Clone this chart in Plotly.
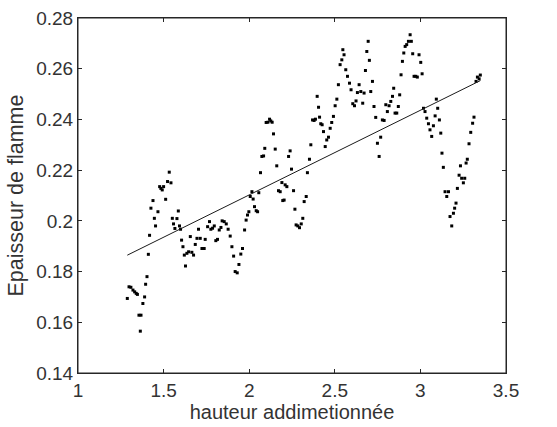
import numpy as np
import plotly.graph_objects as go

hauteur = [1.288, 1.298, 1.309, 1.321, 1.331, 1.340, 1.347, 1.356, 1.368, 1.364, 1.379, 1.389,
           1.395, 1.403, 1.411, 1.418, 1.426, 1.438, 1.446, 1.453, 1.467, 1.477, 1.484, 1.492,
           1.500, 1.512, 1.523, 1.533, 1.543, 1.551, 1.558, 1.566, 1.578, 1.586, 1.593, 1.599,
           1.605, 1.613, 1.621, 1.628, 1.636, 1.646, 1.656, 1.665, 1.675, 1.685, 1.695, 1.704,
           1.714, 1.724, 1.737, 1.743, 1.757, 1.768, 1.776, 1.786, 1.796, 1.805, 1.815, 1.825,
           1.835, 1.842, 1.854, 1.866, 1.877, 1.889, 1.899, 1.909, 1.918, 1.930, 1.940, 1.951,
           1.961, 1.973, 1.982, 1.990, 1.998, 2.006, 2.016, 2.023, 2.031, 2.041, 2.049, 2.056,
           2.066, 2.074, 2.084, 2.091, 2.099, 2.109, 2.119, 2.126, 2.134, 2.142, 2.152, 2.161,
           2.171, 2.181, 2.191, 2.196, 2.204, 2.210, 2.220, 2.230, 2.239, 2.247, 2.259, 2.267,
           2.274, 2.284, 2.294, 2.304, 2.313, 2.321, 2.333, 2.340, 2.352, 2.360, 2.370, 2.379,
           2.387, 2.397, 2.405, 2.411, 2.418, 2.426, 2.434, 2.444, 2.453, 2.463, 2.473, 2.482,
           2.492, 2.502, 2.512, 2.521, 2.531, 2.541, 2.547, 2.554, 2.564, 2.574, 2.586, 2.595,
           2.605, 2.615, 2.624, 2.632, 2.642, 2.652, 2.663, 2.671, 2.679, 2.687, 2.695, 2.702,
           2.710, 2.720, 2.729, 2.739, 2.749, 2.759, 2.768, 2.778, 2.788, 2.798, 2.807, 2.817,
           2.827, 2.837, 2.844, 2.852, 2.862, 2.871, 2.879, 2.887, 2.895, 2.903, 2.911, 2.920,
           2.930, 2.940, 2.947, 2.955, 2.963, 2.973, 2.982, 2.992, 3.002, 3.010, 3.018, 3.027,
           3.037, 3.047, 3.056, 3.066, 3.076, 3.086, 3.093, 3.101, 3.111, 3.119, 3.126, 3.134,
           3.144, 3.154, 3.164, 3.173, 3.183, 3.193, 3.200, 3.208, 3.216, 3.226, 3.234, 3.241,
           3.251, 3.259, 3.267, 3.274, 3.284, 3.294, 3.305, 3.313, 3.325, 3.333, 3.343, 3.350]

epaisseur = [0.1694, 0.1740, 0.1738, 0.1727, 0.1720, 0.1714, 0.1710, 0.1628, 0.1628, 0.1565, 0.1674, 0.1700,
             0.1750, 0.1780, 0.1868, 0.1943, 0.2050, 0.2080, 0.2010, 0.1980, 0.2036, 0.2135, 0.2128, 0.2122,
             0.2135, 0.2085, 0.2155, 0.2192, 0.2150, 0.2010, 0.1988, 0.1970, 0.2009, 0.2039, 0.1980, 0.1967,
             0.1924, 0.1898, 0.1865, 0.1822, 0.1872, 0.1878, 0.1938, 0.1876, 0.1865, 0.1907, 0.1931, 0.1967,
             0.1931, 0.1891, 0.1891, 0.1927, 0.1977, 0.1997, 0.1967, 0.1971, 0.1980, 0.1922, 0.1927, 0.1964,
             0.1974, 0.2000, 0.1997, 0.1988, 0.1967, 0.1940, 0.1898, 0.1861, 0.1800, 0.1795, 0.1828, 0.1869,
             0.1891, 0.1964, 0.2003, 0.2023, 0.2036, 0.2096, 0.2115, 0.2086, 0.2056, 0.2040, 0.2036, 0.2111,
             0.2190, 0.2254, 0.2256, 0.2286, 0.2388, 0.2389, 0.2401, 0.2394, 0.2389, 0.2343, 0.2283, 0.2217,
             0.2119, 0.2115, 0.2151, 0.2080, 0.2082, 0.2142, 0.2135, 0.2254, 0.2276, 0.2204, 0.2119, 0.2046,
             0.1984, 0.1980, 0.1973, 0.1988, 0.2010, 0.2076, 0.2096, 0.2190, 0.2243, 0.2300, 0.2398, 0.2396,
             0.2401, 0.2491, 0.2448, 0.2409, 0.2383, 0.2379, 0.2352, 0.2293, 0.2319, 0.2330, 0.2365, 0.2388,
             0.2412, 0.2454, 0.2480, 0.2537, 0.2616, 0.2635, 0.2675, 0.2655, 0.2596, 0.2570, 0.2543, 0.2517,
             0.2462, 0.2454, 0.2473, 0.2506, 0.2537, 0.2510, 0.2464, 0.2504, 0.2593, 0.2668, 0.2708, 0.2633,
             0.2510, 0.2550, 0.2451, 0.2408, 0.2306, 0.2254, 0.2330, 0.2398, 0.2396, 0.2458, 0.2431, 0.2454,
             0.2471, 0.2491, 0.2523, 0.2425, 0.2425, 0.2451, 0.2497, 0.2576, 0.2629, 0.2662, 0.2688, 0.2695,
             0.2708, 0.2734, 0.2708, 0.2659, 0.2570, 0.2570, 0.2567, 0.2655, 0.2625, 0.2580, 0.2444, 0.2431,
             0.2405, 0.2383, 0.2359, 0.2333, 0.2375, 0.2414, 0.2480, 0.2444, 0.2398, 0.2346, 0.2267, 0.2211,
             0.2115, 0.2096, 0.2115, 0.2017, 0.1980, 0.2030, 0.2050, 0.2070, 0.2128, 0.2180, 0.2217, 0.2168,
             0.2150, 0.2168, 0.2228, 0.2243, 0.2304, 0.2349, 0.2385, 0.2409, 0.2550, 0.2567, 0.2560, 0.2575]

x_ticks = [1, 1.5, 2, 2.5, 3, 3.5]
x_tick_labels = ["1", "1.5", "2", "2.5", "3", "3.5"]
y_ticks = [0.14, 0.16, 0.18, 0.2, 0.22, 0.24, 0.26, 0.28]
y_tick_labels = ["0.14", "0.16", "0.18", "0.2", "0.22", "0.24", "0.26", "0.28"]

x = np.array(hauteur)
y = np.array(epaisseur)
slope, intercept = np.polyfit(x, y, 1)
x_fit = np.array([x.min(), x.max()])
y_fit = slope * x_fit + intercept

fig = go.Figure()
fig.add_trace(go.Scatter(x=hauteur, y=epaisseur, mode="markers",
                         marker=dict(color="black", size=3, symbol="square"),
                         showlegend=False))
fig.add_trace(go.Scatter(x=x_fit, y=y_fit, mode="lines",
                         line=dict(color="#1a1a1a", width=1), showlegend=False))

font_family = "Liberation Sans, Arial, sans-serif"
text_color = "#333333"
axis_common = dict(showline=True, linecolor="#262626", linewidth=1, mirror="ticks",
                   ticks="inside", ticklen=4, tickcolor="#262626", showgrid=False,
                   zeroline=False, automargin=False, ticklabeloverflow="allow",
                   tickfont=dict(family=font_family, size=19, color=text_color))

fig.update_xaxes(range=[1, 3.5], tickvals=x_ticks, ticktext=x_tick_labels,
                 title=dict(text="hauteur addimetionnée",
                            font=dict(family=font_family, size=20, color=text_color), standoff=3),
                 **axis_common)
fig.update_yaxes(range=[0.14, 0.28], tickvals=y_ticks, ticktext=y_tick_labels,
                 title=dict(text="Epaisseur de flamme",
                            font=dict(family=font_family, size=21.5, color=text_color), standoff=6),
                 **axis_common)

# axes box frame (plot-area border)
fig.add_shape(type="rect", xref="paper", yref="paper", x0=0, x1=1, y0=0, y1=1,
              line=dict(color="#262626", width=1), fillcolor="rgba(0,0,0,0)", layer="above")

fig.update_layout(width=557, height=427, margin=dict(l=78, r=51, t=18, b=54),
                  plot_bgcolor="white", paper_bgcolor="white")

fig.write_html("out.html", config={"displayModeBar": False},
               post_script="document.body.style.margin='0px';document.body.style.overflow='hidden';")
